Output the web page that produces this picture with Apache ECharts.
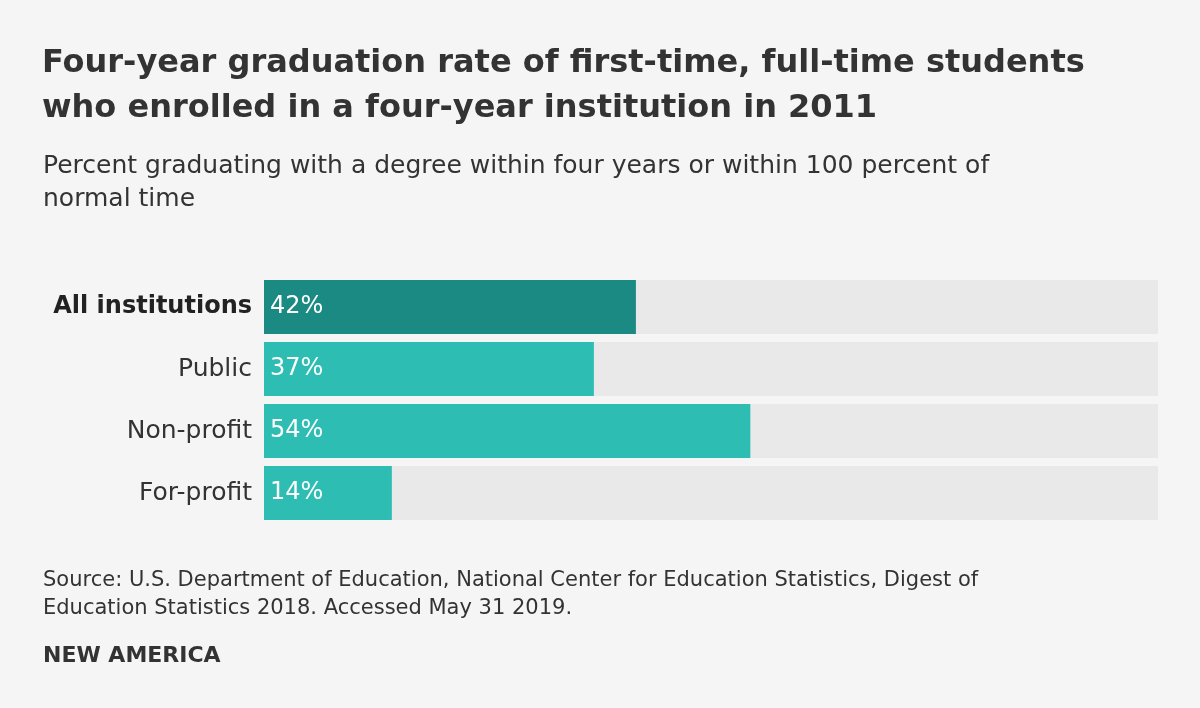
<!DOCTYPE html>
<html>
<head>
<meta charset="utf-8">
<script src="https://cdn.jsdelivr.net/npm/echarts@6/dist/echarts.min.js"></script>
<style>
html,body{margin:0;padding:0;background:#f5f5f5;}
#chart{width:1200px;height:708px;}
</style>
</head>
<body>
<div id="chart"></div>
<script>
const categories = ["All institutions", "Public", "Non-profit", "For-profit"];
// values; labels show them rounded
const values = [41.6, 36.9, 54.4, 14.3];
const highlightCategory = "All institutions";

const FONT = "'DejaVu Sans', 'Open Sans', sans-serif";
const chart = echarts.init(document.getElementById('chart'));
chart.setOption({
  backgroundColor: '#f5f5f5',
  animation: false,
  title: [
    {
      text: 'Four-year graduation rate of first-time, full-time students\nwho enrolled in a four-year institution in 2011',
      left: 37, top: 36,
      textStyle: {fontFamily: FONT, fontSize: 32, fontWeight: 'bold', color: '#333333', lineHeight: 45}
    },
    {
      text: 'Percent graduating with a degree within four years or within 100 percent of\nnormal time',
      left: 38, top: 145,
      textStyle: {fontFamily: FONT, fontSize: 25, fontWeight: 'normal', color: '#333333', lineHeight: 33}
    },
    {
      text: 'Source: U.S. Department of Education, National Center for Education Statistics, Digest of\nEducation Statistics 2018. Accessed May 31 2019.',
      left: 38, top: 562,
      textStyle: {fontFamily: FONT, fontSize: 21, fontWeight: 'normal', color: '#333333', lineHeight: 28}
    },
    {
      text: 'NEW AMERICA',
      left: 38, top: 640,
      textStyle: {fontFamily: FONT, fontSize: 22, fontWeight: 'bold', color: '#333333'}
    }
  ],
  grid: {left: 264, right: 42, top: 276, bottom: 184, containLabel: false},
  xAxis: {type: 'value', min: 0, max: 100, show: false},
  yAxis: {
    type: 'category', data: categories, inverse: true,
    axisLine: {show: false}, axisTick: {show: false}, splitLine: {show: false},
    axisLabel: {
      margin: 12,
      fontFamily: FONT, fontSize: 25, color: '#333333',
      formatter: function (v) { return v === highlightCategory ? '{b|' + v + '}' : v; },
      rich: {b: {fontFamily: FONT, fontSize: 24, fontWeight: 'bold', color: '#222222'}}
    }
  },
  series: [{
    type: 'bar',
    data: values.map((v, i) => ({
      value: v,
      itemStyle: {color: categories[i] === highlightCategory ? '#1a8a83' : '#2ebdb3'}
    })),
    barCategoryGap: '12.9%',
    showBackground: true,
    backgroundStyle: {color: '#e9e9e9'},
    label: {
      show: true, position: 'insideLeft', distance: 6,
      formatter: function (p) { return Math.round(p.value) + '%'; },
      fontFamily: FONT, fontSize: 24, color: '#ffffff'
    }
  }]
});
</script>
</body>
</html>
